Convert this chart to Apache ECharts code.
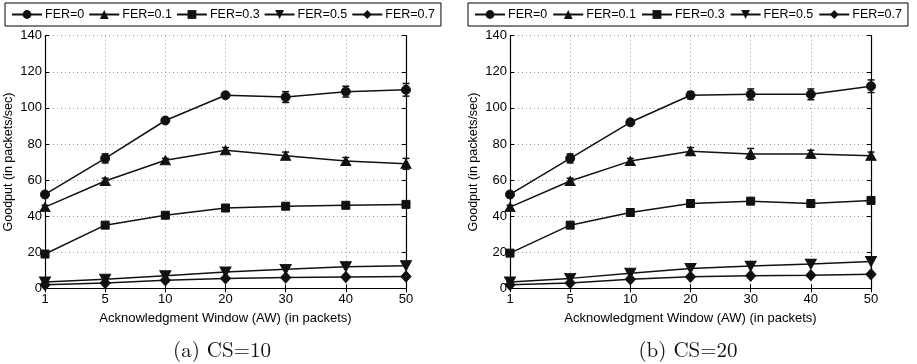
<!DOCTYPE html>
<html>
<head>
<meta charset="utf-8">
<script src="https://cdn.jsdelivr.net/npm/echarts@6/dist/echarts.min.js"></script>
<style>
  html, body { margin: 0; padding: 0; background: #fff; }
  #chart { width: 917px; height: 364px; }
</style>
</head>
<body>
<div id="chart"></div>
<script>
// Acknowledgment window sizes (categorical x axis)
const awLabels = ['1', '5', '10', '20', '30', '40', '50'];
const ferNames = ['FER=0', 'FER=0.1', 'FER=0.3', 'FER=0.5', 'FER=0.7'];

// Goodput, CS=10
const cs10Fer0  = [52, 72, 93, 107, 106, 109, 110];
const cs10Fer01 = [45, 59.5, 71, 76.5, 73.5, 70.5, 69];
const cs10Fer03 = [19, 35, 40.5, 44.5, 45.5, 46, 46.5];
const cs10Fer05 = [3.5, 5, 7, 9, 10.5, 12, 12.5];
const cs10Fer07 = [2, 3, 4.5, 5.5, 6, 6.3, 6.5];
// half-widths of the confidence intervals, CS=10
const cs10Err0  = [1, 2.5, 1, 1.5, 3, 3, 3.5];
const cs10Err01 = [1, 1.5, 1, 1.5, 2, 2, 3];

// Goodput, CS=20
const cs20Fer0  = [52, 72, 92, 107, 107.5, 107.5, 112];
const cs20Fer01 = [45, 59.5, 70.5, 76, 74.5, 74.5, 73.5];
const cs20Fer03 = [19.5, 35, 42, 47, 48.3, 47, 48.7];
const cs20Fer05 = [3.5, 5.5, 8.3, 11, 12.3, 13.4, 14.8];
const cs20Fer07 = [2, 3, 5, 6.4, 7, 7.3, 7.8];
const cs20Err0  = [1, 2.5, 1, 2, 3, 3, 3.5];
const cs20Err01 = [1, 1.5, 1.5, 2, 3, 2, 2];

const yTicks = { min: 0, max: 140, interval: 20 };

const symbols = [
  'circle',
  'triangle',
  'rect',
  'path://M0,0 L10,0 L5,9 Z',
  'path://M5,0 L10,5 L5,10 L0,5 Z'
];
const symbolSizes = [9, [10, 9], 8, [11, 10], [10, 11]];

const sans = 'Liberation Sans, Arial, Helvetica, sans-serif';
const ink = '#111';

const grids = [
  { left: 45, top: 35.7, width: 361, height: 252.6 },
  { left: 510, top: 35.7, width: 361, height: 252.6 }
];

function xAxes(gi) {
  return [
    {
      type: 'category', gridIndex: gi, data: awLabels, boundaryGap: false,
      axisLine: { lineStyle: { color: '#000', width: 1.2 } },
      axisTick: { inside: true, length: 4, lineStyle: { color: '#000' } },
      axisLabel: { color: '#000', fontSize: 13, fontFamily: sans, margin: 5 },
      splitLine: { show: true, lineStyle: { color: '#9a9a9a', type: [1, 3], width: 1 } },
      name: 'Acknowledgment Window (AW) (in packets)',
      nameLocation: 'middle', nameGap: 24,
      nameTextStyle: { color: '#000', fontSize: 13, fontFamily: sans }
    },
    {
      type: 'category', gridIndex: gi, data: awLabels, boundaryGap: false, position: 'top',
      axisLine: { lineStyle: { color: '#000', width: 1.2 } },
      axisTick: { inside: true, length: 4, lineStyle: { color: '#000' } },
      axisLabel: { show: false }, splitLine: { show: false }
    }
  ];
}

function yAxes(gi) {
  return [
    Object.assign({
      type: 'value', gridIndex: gi,
      axisLine: { show: true, lineStyle: { color: '#000', width: 1.2 } },
      axisTick: { show: true, inside: true, length: 4, lineStyle: { color: '#000' } },
      axisLabel: { color: '#000', fontSize: 13, fontFamily: sans, margin: 3 },
      splitLine: { show: true, lineStyle: { color: '#9a9a9a', type: [1, 3], width: 1 } },
      name: 'Goodput (in packets/sec)', nameLocation: 'middle', nameGap: 30,
      nameTextStyle: { color: '#000', fontSize: 12.5, fontFamily: sans }
    }, yTicks),
    Object.assign({
      type: 'value', gridIndex: gi, position: 'right',
      axisLine: { show: true, lineStyle: { color: '#000', width: 1.2 } },
      axisTick: { show: true, inside: true, length: 4, lineStyle: { color: '#000' } },
      axisLabel: { show: false }, splitLine: { show: false }
    }, yTicks)
  ];
}

function lineSeries(name, values, k, gi) {
  return {
    type: 'line', name: name, data: values,
    xAxisIndex: gi * 2, yAxisIndex: gi * 2,
    symbol: symbols[k], symbolSize: symbolSizes[k],
    showAllSymbol: true,
    lineStyle: { color: ink, width: 1.5 },
    itemStyle: { color: ink, borderColor: ink },
    emphasis: { disabled: true },
    animation: false,
    z: 3
  };
}

function errorSeries(values, errs, gi) {
  const data = values.map((v, i) => [i, v - errs[i], v + errs[i]]);
  return {
    type: 'custom', name: 'err' + gi, data: data,
    xAxisIndex: gi * 2, yAxisIndex: gi * 2,
    animation: false, z: 4, silent: true,
    renderItem: function (params, api) {
      const lo = api.coord([api.value(0), api.value(1)]);
      const hi = api.coord([api.value(0), api.value(2)]);
      const cap = 3.5;
      const st = { stroke: ink, lineWidth: 1.5 };
      return {
        type: 'group',
        children: [
          { type: 'line', shape: { x1: lo[0], y1: lo[1], x2: hi[0], y2: hi[1] }, style: st },
          { type: 'line', shape: { x1: lo[0] - cap, y1: lo[1], x2: lo[0] + cap, y2: lo[1] }, style: st },
          { type: 'line', shape: { x1: hi[0] - cap, y1: hi[1], x2: hi[0] + cap, y2: hi[1] }, style: st }
        ]
      };
    }
  };
}

const panels = [
  { values: [cs10Fer0, cs10Fer01, cs10Fer03, cs10Fer05, cs10Fer07], errs: [cs10Err0, cs10Err01] },
  { values: [cs20Fer0, cs20Fer01, cs20Fer03, cs20Fer05, cs20Fer07], errs: [cs20Err0, cs20Err01] }
];

const series = [];
panels.forEach((p, gi) => {
  p.values.forEach((vals, k) => series.push(lineSeries(ferNames[k], vals, k, gi)));
  series.push(errorSeries(p.values[0], p.errs[0], gi));
  series.push(errorSeries(p.values[1], p.errs[1], gi));
});

function legend(left, gap) {
  return {
    data: ferNames, left: left, top: 3, width: 500, orient: 'horizontal',
    padding: [5, 6, 5, 6], itemGap: gap, itemWidth: 30, itemHeight: 11,
    borderColor: '#000', borderWidth: 1, backgroundColor: '#fff',
    selectedMode: false,
    textStyle: { color: '#000', fontSize: 12.5, fontFamily: sans, padding: [0, 0, 0, -2] }
  };
}

const captionFont = 'Latin Modern Roman, CMU Serif, DejaVu Serif, Liberation Serif, serif';

const option = {
  backgroundColor: '#fff',
  animation: false,
  grid: grids,
  xAxis: xAxes(0).concat(xAxes(1)),
  yAxis: yAxes(0).concat(yAxes(1)),
  legend: [legend(5, 4), legend(468, 5)],
  title: [
    { text: '(a) CS=10', left: 217, top: 335, textAlign: 'center',
      textStyle: { fontFamily: captionFont, fontWeight: 'normal', fontSize: 21, color: '#111' } },
    { text: '(b) CS=20', left: 683, top: 335, textAlign: 'center',
      textStyle: { fontFamily: captionFont, fontWeight: 'normal', fontSize: 21, color: '#111' } }
  ],
  series: series
};

const chart = echarts.init(document.getElementById('chart'), null, { renderer: 'canvas' });
chart.setOption(option);
</script>
</body>
</html>
